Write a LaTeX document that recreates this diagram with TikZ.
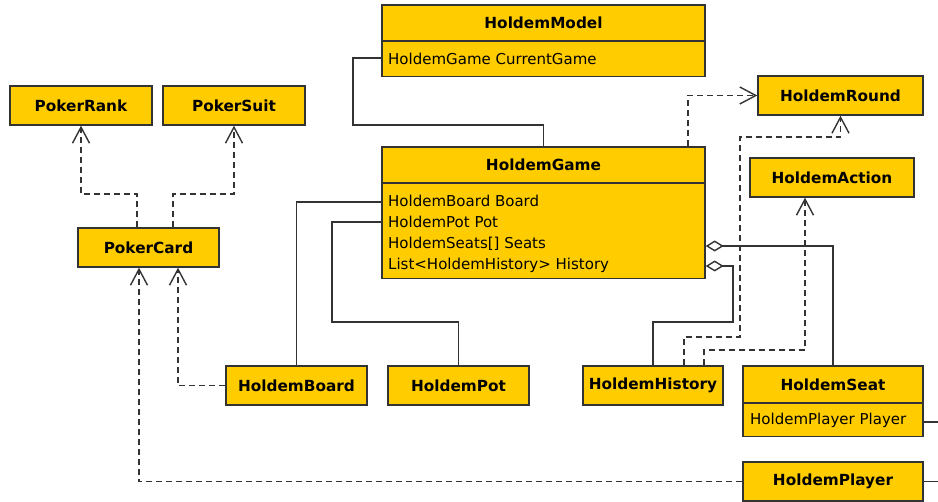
\documentclass[tikz,border=0pt]{standalone}
\usepackage{fontspec}
\setmainfont{DejaVu Sans}
\usetikzlibrary{arrows.meta}
\definecolor{umlfill}{HTML}{FFCC00}
\definecolor{umlline}{HTML}{333333}
\begin{document}
\begin{tikzpicture}[x=1pt,y=-1pt,
  box/.style={draw=umlline, line width=1.4pt, fill=umlfill, inner sep=0pt,
    font=\fontsize{15.3}{18}\selectfont\bfseries, minimum height=39pt},
  compart/.style={draw=umlline, line width=1.4pt, fill=umlfill, inner sep=0pt, anchor=north},
  attrtext/.style={inner sep=0pt, anchor=north west, font=\fontsize{15}{21}\selectfont, align=left},
  conn/.style={draw=umlline, line width=1.4pt},
  dep/.style={conn, dash pattern=on 6pt off 4pt, -{Straight Barb[length=16pt,width=17pt]}},
  agg/.style={conn, {Diamond[open,fill=white,length=18pt,width=11pt]}-}]
\useasboundingbox (0,0) rectangle (938,502);

% classes
\node[box, minimum width=142pt] (rank) at (81,105.5) {PokerRank};
\node[box, minimum width=142pt] (suit) at (234,105.5) {PokerSuit};
\node[box, minimum width=141pt] (card) at (148.5,247.5) {PokerCard};
\node[box, minimum width=141pt] (board) at (296.5,385.5) {HoldemBoard};
\node[box, minimum width=141pt] (pot) at (458.5,385.5) {HoldemPot};
\node[box, minimum width=140pt] (history) at (653,385.5) {HoldemHistory};
\node[box, minimum width=165pt] (round) at (840.5,95.5) {HoldemRound};
\node[box, minimum width=164pt] (action) at (832,177.5) {HoldemAction};
\node[box, minimum width=180pt] (player) at (833,481.5) {HoldemPlayer};

\node[box, minimum width=180pt, minimum height=37pt] (seatH) at (833,384.5) {HoldemSeat};
\node[compart, minimum width=180pt, minimum height=33pt] (seatA) at (833,403) {};
\node[attrtext, anchor=west] (seatT) at (750,420.5) {HoldemPlayer Player};

\node[box, minimum width=323pt, minimum height=36pt] (modelH) at (543.5,23) {HoldemModel};
\node[compart, minimum width=323pt, minimum height=35pt] (modelA) at (543.5,41) {};
\node[attrtext, anchor=west] (modelT) at (388,59) {HoldemGame CurrentGame};

\node[box, minimum width=323pt, minimum height=36pt] (gameH) at (543.5,165) {HoldemGame};
\node[compart, minimum width=323pt, minimum height=95pt] (gameA) at (543.5,183) {};
\node[attrtext, anchor=west] (gameT) at (388,233.5)
  {HoldemBoard Board\\HoldemPot Pot\\HoldemSeats[] Seats\\List<HoldemHistory> History};

% connectors
\draw[conn] (modelA.west |- 0,58) -- (353,58) -- (353,125) -- (543.5,125) -- (gameH.north);
\draw[dep] (gameH.north -| 688,0) |- (round.west);
\draw[dep] (history.north -| 684,0) -- (684,337) -- (740,337) -- (740,137) -| (round.south);
\draw[dep] (history.north -| 704,0) -- (704,350) -- (805,350) -- (action.south -| 805,0);
\draw[agg] (gameA.east |- 0,246) -| (seatH.north);
\draw[agg] (gameA.east |- 0,266) -- (733,266) -- (733,322) -| (history.north);
\draw[conn] (board.north) |- (gameA.west |- 0,202);
\draw[conn] (pot.north) -- (458.5,322) -- (332,322) -- (332,222) -- (gameA.west |- 0,222);
\draw[dep] (board.west) -| (card.south -| 178,0);
\draw[dep] (player.west) -| (card.south -| 139,0);
\draw[dep] (card.north -| 137,0) -- (137,194) -| (rank.south);
\draw[dep] (card.north -| 173,0) -- (173,194) -| (suit.south);
\draw[conn] (seatA.east |- 0,422) -- (938,422);
\draw[conn] (player.east) -- (938,481.5);
\end{tikzpicture}
\end{document}
